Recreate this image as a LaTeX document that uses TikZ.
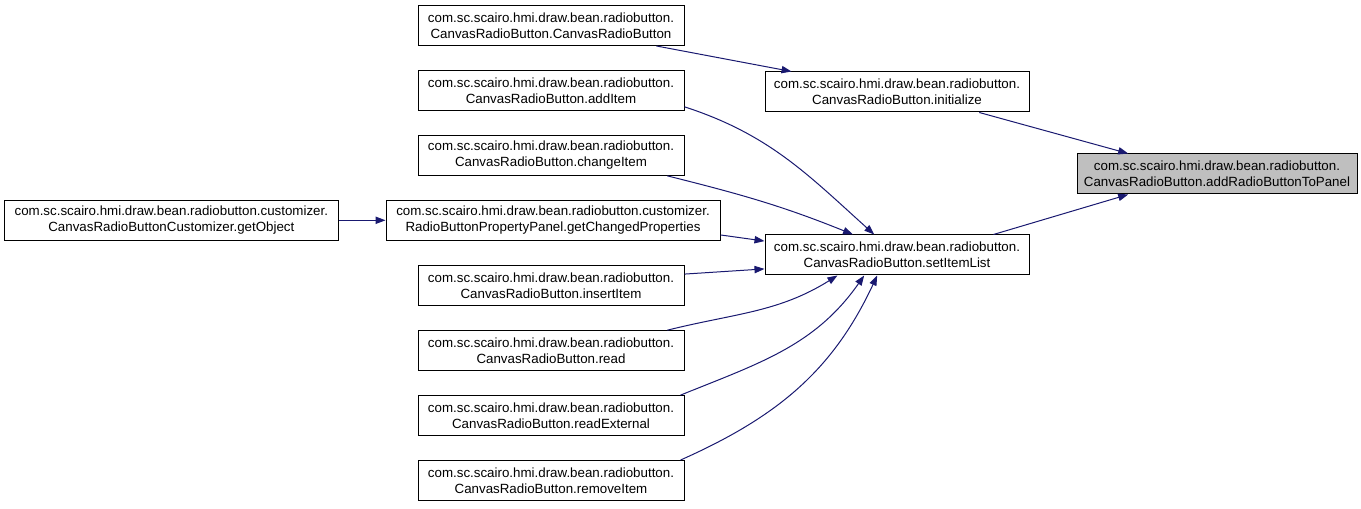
\documentclass[tikz,border=0pt]{standalone}
\usepackage{fontspec}
\setmainfont{Liberation Sans}
\usepackage{xcolor}
\definecolor{azulnoite}{RGB}{25,25,112}
\definecolor{cinzaalvo}{RGB}{191,191,191}
\usepackage{tikz}
\usetikzlibrary{arrows.meta, positioning}

\begin{document}
\begin{tikzpicture}[
    x=0.75pt, y=-0.75pt,
    node distance=17.95pt and 35pt,
    func/.style={
      rectangle, draw=black, line width=0.75pt, fill=white,
      minimum width=199.5pt, minimum height=30pt,
      font=\fontsize{10}{12}\selectfont, align=center,
      inner sep=2pt
    },
    wide/.style={func, minimum width=250.5pt},
    alvo/.style={func, fill=cinzaalvo, minimum width=210pt},
    arrow/.style={-{Triangle[length=7.5pt, width=5.5pt]}, line width=0.75pt,
                  color=azulnoite}
  ]
  \useasboundingbox (0,0) rectangle (1361,509);

  % Left column: callers
  \node[func] (ctor) at (551,25.5)
    {com.sc.scairo.hmi.draw.bean.radiobutton.\\CanvasRadioButton.CanvasRadioButton};
  \node[func, below=of ctor]    (addItem)
    {com.sc.scairo.hmi.draw.bean.radiobutton.\\CanvasRadioButton.addItem};
  \node[func, below=of addItem] (changeItem)
    {com.sc.scairo.hmi.draw.bean.radiobutton.\\CanvasRadioButton.changeItem};
  \node[wide, below=of changeItem, xshift=1.5pt] (getChanged)
    {com.sc.scairo.hmi.draw.bean.radiobutton.customizer.\\RadioButtonPropertyPanel.getChangedProperties};
  \node[func, below=of changeItem, yshift=-49.1pt] (insertItem)
    {com.sc.scairo.hmi.draw.bean.radiobutton.\\CanvasRadioButton.insertItem};
  \node[func, below=of insertItem] (read)
    {com.sc.scairo.hmi.draw.bean.radiobutton.\\CanvasRadioButton.read};
  \node[func, below=of read]       (readExternal)
    {com.sc.scairo.hmi.draw.bean.radiobutton.\\CanvasRadioButton.readExternal};
  \node[func, below=of readExternal] (removeItem)
    {com.sc.scairo.hmi.draw.bean.radiobutton.\\CanvasRadioButton.removeItem};

  \node[wide, left=of getChanged] (getObject)
    {com.sc.scairo.hmi.draw.bean.radiobutton.customizer.\\CanvasRadioButtonCustomizer.getObject};

  % Middle column
  \node[func, minimum width=198pt] (initialize) at (897,92)
    {com.sc.scairo.hmi.draw.bean.radiobutton.\\CanvasRadioButton.initialize};
  \node[func, minimum width=198pt] (setItemList) at (897,255)
    {com.sc.scairo.hmi.draw.bean.radiobutton.\\CanvasRadioButton.setItemList};

  % Target
  \node[alvo] (addRadio) at (1217,174)
    {com.sc.scairo.hmi.draw.bean.radiobutton.\\CanvasRadioButton.addRadioButtonToPanel};

  % Arrows – into the target
  \draw[arrow] (initialize.-14) -- (addRadio.167);
  \draw[arrow] (setItemList.12) -- (addRadio.193);
  \draw[arrow] (ctor.-11)       -- (initialize.169);

  % Arrows – into setItemList
  \draw[arrow] (addItem.-7)     to[out=-18, in=138] (setItemList.138);
  \draw[arrow] (changeItem.-10) to[out=-14, in=158] (setItemList.155);
  \draw[arrow] (getChanged.-5)  -- (setItemList.174);
  \draw[arrow] (insertItem.5)   -- (setItemList.186);
  \draw[arrow] (read.10)        to[out=14, in=-148] (setItemList.199);
  \draw[arrow] (readExternal.9) to[out=22, in=-125] (setItemList.212);
  \draw[arrow] (removeItem.9)   to[out=24, in=-115] (setItemList.226);

  \draw[arrow] (getObject) -- (getChanged);

\end{tikzpicture}
\end{document}
